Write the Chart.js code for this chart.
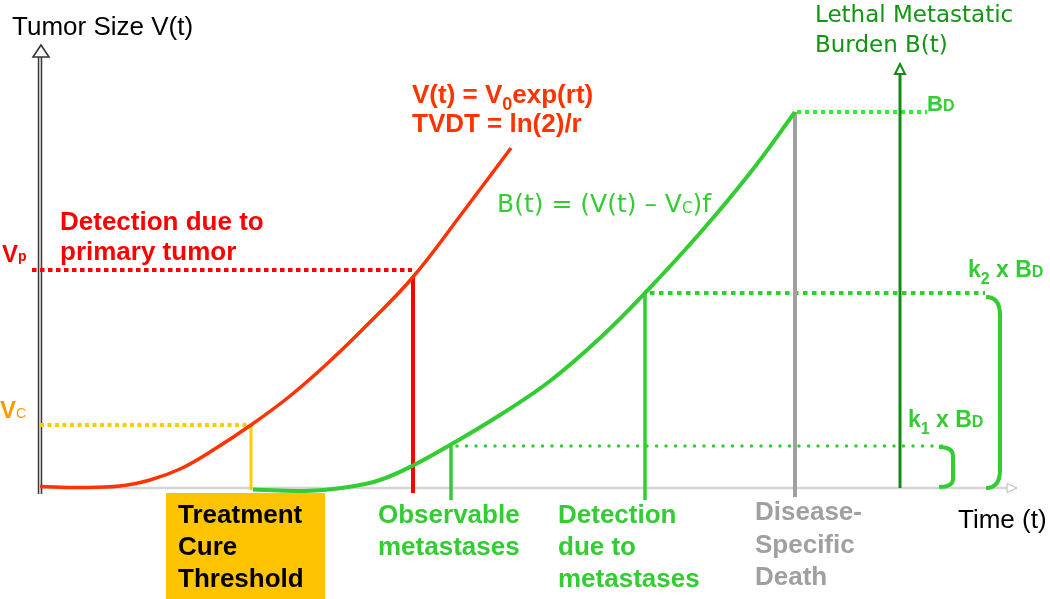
<!DOCTYPE html>
<html>
<head>
<meta charset="utf-8">
<script src="https://cdn.jsdelivr.net/npm/chart.js@4.4.1/dist/chart.umd.min.js"></script>
<style>
  html, body { margin: 0; padding: 0; background: #fff; }
  #wrap { width: 1050px; height: 599px; position: relative; }
</style>
</head>
<body>
<div id="wrap"><canvas id="diagram"></canvas></div>
<script>
// Primary tumor growth V(t) (time / size in diagram units)
const tumorTime = [0, 40, 80, 110, 140, 170, 211, 250, 290, 330, 373, 423, 471];
const tumorSize = [1.5, 0.5, 2, 8, 19, 36, 63, 92, 127, 166, 211, 276, 340];

// Metastatic burden B(t)
const burdenTime = [213, 265, 310, 340, 372, 410, 460, 510, 560, 605, 660, 710, 755];
const burdenSize = [-1.5, -3, 1.3, 8, 22, 43, 73, 107, 150, 195, 255, 315, 376];

// Thresholds
const sizeCure = 63;      // Vc
const sizePrimary = 218;  // Vp
const burdenK1 = 42;      // k1 x BD
const burdenK2 = 195;     // k2 x BD
const burdenLethal = 376; // BD

// Event times
const timeCure = 211;
const timePrimary = 373;
const timeObservable = 411;
const timeDetectMet = 605;
const timeDeath = 755;
const timeBurdenAxis = 860;
const timeAxisEnd = 968;
const sizeAxisTop = 443;
const burdenAxisTop = 424;

const RED = '#ff0000';
const ORANGE_RED = '#ff3300';
const GREEN = '#33cc33';
const DARK_GREEN = '#108a10';
const GRAY = '#a0a0a0';
const YELLOW = '#ffcc00';

function pts(xs, ys) {
    return xs.map((x, i) => ({ x: x, y: ys[i] }));
}
function seg(x1, y1, x2, y2) {
    return [{ x: x1, y: y1 }, { x: x2, y: y2 }];
}
function lineSet(data, color, width, extra) {
    return Object.assign({
        data: data, borderColor: color, borderWidth: width,
        showLine: true, pointRadius: 0, fill: false, tension: 0
    }, extra || {});
}

const datasets = [
    // curves
    lineSet(pts(tumorTime, tumorSize), ORANGE_RED, 3.5, { tension: 0.4, order: 1 }),
    lineSet(pts(burdenTime, burdenSize), GREEN, 4, { tension: 0.4, order: 1 }),
    // vertical markers
    lineSet(seg(timeCure, sizeCure, timeCure, -2), YELLOW, 3, { order: 2 }),
    lineSet(seg(timePrimary, 211, timePrimary, -5), RED, 4, { order: 2 }),
    lineSet(seg(timeObservable, burdenK1, timeObservable, -12), GREEN, 3.5, { order: 2 }),
    lineSet(seg(timeDetectMet, burdenK2, timeDetectMet, -12), GREEN, 3.5, { order: 2 }),
    lineSet(seg(timeDeath, burdenLethal, timeDeath, -9), GRAY, 4, { order: 3 }),
    lineSet(seg(timeBurdenAxis, 0, timeBurdenAxis, burdenAxisTop - 8), DARK_GREEN, 3, { order: 2 }),
    // dotted threshold lines
    lineSet(seg(0, sizeCure, 208, sizeCure), YELLOW, 4, { borderDash: [4, 3.5], order: 4 }),
    lineSet(seg(-8, sizePrimary, 372, sizePrimary), RED, 4, { borderDash: [4.5, 3.5], order: 4 }),
    lineSet(seg(417, burdenK1, 905, burdenK1), GREEN, 3.5, { borderDash: [0, 9.5], borderCapStyle: 'round', order: 4 }),
    lineSet(seg(610, burdenK2, 945, burdenK2), GREEN, 4, { borderDash: [4.5, 4.5], order: 4 }),
    lineSet(seg(757, burdenLethal, 887, burdenLethal), '#33ee33', 4, { borderDash: [4, 4], order: 4 }),
    // axes
    lineSet(seg(0, 0, timeAxisEnd, 0), '#d6d6d6', 2.5, { order: 6 }),
    lineSet(seg(0, -6, 0, sizeAxisTop - 12), '#ececec', 1.5, { order: 5 }),
    lineSet(seg(0, -6, 0, sizeAxisTop - 12), '#3a3a3a', 4.5, { order: 5.5 })
];

function text(ctx, s, x, y, font, color) {
    ctx.font = font;
    ctx.fillStyle = color;
    ctx.fillText(s, x, y);
    return x + ctx.measureText(s).width;
}
// parts: [string, font, dy]
function rich(ctx, parts, x, y, color) {
    let cx = x;
    parts.forEach(p => { cx = text(ctx, p[0], cx, y + (p[2] || 0), p[1], color); });
}

const B26 = 'bold 26px "Liberation Sans", Arial, sans-serif';
const R26 = '26px "Liberation Sans", Arial, sans-serif';

const annotations = {
    id: 'annotations',
    beforeDatasetsDraw(chart) {
        const ctx = chart.ctx;
        const sx = chart.scales.x, sy = chart.scales.y;
        const X = v => sx.getPixelForValue(v), Y = v => sy.getPixelForValue(v);
        // Treatment cure threshold box
        ctx.save();
        ctx.fillStyle = '#ffc400';
        ctx.fillRect(X(126), Y(-5), X(285) - X(126), Y(-111) - Y(-5));
        ctx.restore();
    },
    afterDatasetsDraw(chart) {
        const ctx = chart.ctx;
        const sx = chart.scales.x, sy = chart.scales.y;
        const X = v => sx.getPixelForValue(v), Y = v => sy.getPixelForValue(v);
        ctx.save();
        ctx.textBaseline = 'alphabetic';

        // arrowheads
        ctx.lineJoin = 'miter';
        ctx.fillStyle = '#fff';
        ctx.strokeStyle = '#333';
        ctx.lineWidth = 1.6;
        ctx.beginPath();
        ctx.moveTo(X(1), Y(sizeAxisTop));
        ctx.lineTo(X(-7), Y(sizeAxisTop - 12));
        ctx.lineTo(X(9), Y(sizeAxisTop - 12));
        ctx.closePath();
        ctx.fill(); ctx.stroke();

        ctx.strokeStyle = DARK_GREEN;
        ctx.lineWidth = 2;
        ctx.beginPath();
        ctx.moveTo(X(timeBurdenAxis), Y(burdenAxisTop));
        ctx.lineTo(X(timeBurdenAxis - 5), Y(burdenAxisTop - 10));
        ctx.lineTo(X(timeBurdenAxis + 5), Y(burdenAxisTop - 10));
        ctx.closePath();
        ctx.fill(); ctx.stroke();

        ctx.strokeStyle = '#b8b8b8';
        ctx.lineWidth = 1;
        ctx.beginPath();
        ctx.moveTo(X(timeAxisEnd + 9), Y(0));
        ctx.lineTo(X(timeAxisEnd - 1), Y(4.5));
        ctx.lineTo(X(timeAxisEnd - 1), Y(-4.5));
        ctx.closePath();
        ctx.fill(); ctx.stroke();

        // brackets
        ctx.strokeStyle = GREEN;
        ctx.lineWidth = 4;
        ctx.lineCap = 'butt';
        ctx.beginPath();
        ctx.moveTo(X(899), Y(burdenK1 - 1));
        ctx.quadraticCurveTo(X(913), Y(burdenK1 - 1), X(913), Y(burdenK1 - 10));
        ctx.lineTo(X(913), Y(9));
        ctx.quadraticCurveTo(X(913), Y(1), X(899), Y(1));
        ctx.stroke();
        ctx.beginPath();
        ctx.moveTo(X(946), Y(burdenK2 - 4));
        ctx.quadraticCurveTo(X(960), Y(burdenK2 - 4), X(960), Y(burdenK2 - 22));
        ctx.lineTo(X(960), Y(18));
        ctx.quadraticCurveTo(X(960), Y(0), X(946), Y(0));
        ctx.stroke();

        // axis titles
        text(ctx, 'Tumor Size V(t)', X(-28), Y(453), R26, '#000');
        text(ctx, 'Time (t)', X(918), Y(-40), R26, '#000');
        const V23 = '23px "DejaVu Sans", Verdana, sans-serif';
        text(ctx, 'Lethal Metastatic', X(775), Y(466), V23, '#129612');
        text(ctx, 'Burden B(t)', X(775), Y(436), V23, '#129612');

        // equations
        rich(ctx, [['V(t) = V', B26], ['0', 'bold 18px "Liberation Sans", Arial, sans-serif', 7], ['exp(rt)', B26]],
            X(372), Y(385), ORANGE_RED);
        text(ctx, 'TVDT = ln(2)/r', X(372), Y(356), B26, ORANGE_RED);
        const V25 = '25px "DejaVu Sans", Verdana, sans-serif';
        rich(ctx, [['B(t) = (V(t) \u2013 V', V25], ['C', '15px "DejaVu Sans", Verdana, sans-serif', 1], [')f', V25]],
            X(457), Y(276), GREEN);

        // threshold labels
        text(ctx, 'Detection due to', X(20), Y(258), B26, RED);
        text(ctx, 'primary tumor', X(20), Y(228), B26, RED);
        rich(ctx, [['V', 'bold 24px "Liberation Sans", Arial, sans-serif'], ['p', 'bold 14px "Liberation Sans", Arial, sans-serif', -1]],
            X(-38), Y(226), RED);
        rich(ctx, [['V', 'bold 24px "Liberation Sans", Arial, sans-serif'], ['C', '14px "Liberation Sans", Arial, sans-serif']],
            X(-40), Y(70), '#ff9900');
        const B23 = 'bold 23px "Liberation Sans", Arial, sans-serif';
        const B16 = 'bold 16px "Liberation Sans", Arial, sans-serif';
        rich(ctx, [['B', 'bold 22px "Liberation Sans", Arial, sans-serif'], ['D', B16]], X(887), Y(burdenLethal + 1), GREEN);
        rich(ctx, [['k', B23], ['2', B16, 7], [' x B', B23], ['D', B16]], X(928), Y(211), GREEN);
        rich(ctx, [['k', B23], ['1', B16, 7], [' x B', B23], ['D', B16]], X(868), Y(61), GREEN);

        // event labels
        ['Treatment', 'Cure', 'Threshold'].forEach((s, i) => text(ctx, s, X(138), Y(-35 - i * 32), B26, '#000'));
        ['Observable', 'metastases'].forEach((s, i) => text(ctx, s, X(338), Y(-35 - i * 32), B26, GREEN));
        ['Detection', 'due to', 'metastases'].forEach((s, i) => text(ctx, s, X(518), Y(-35 - i * 32), B26, GREEN));
        ['Disease-', 'Specific', 'Death'].forEach((s, i) => text(ctx, s, X(715), Y(-32 - i * 32.5), B26, GRAY));
        ctx.restore();
    }
};

new Chart(document.getElementById('diagram'), {
    type: 'scatter',
    data: { datasets: datasets },
    options: {
        responsive: true,
        maintainAspectRatio: false,
        animation: false,
        layout: { padding: 0 },
        plugins: { legend: { display: false }, tooltip: { enabled: false } },
        scales: {
            x: { type: 'linear', min: -40, max: 1010, display: false },
            y: { type: 'linear', min: -111, max: 488, display: false }
        }
    },
    plugins: [annotations]
});
</script>
</body>
</html>
